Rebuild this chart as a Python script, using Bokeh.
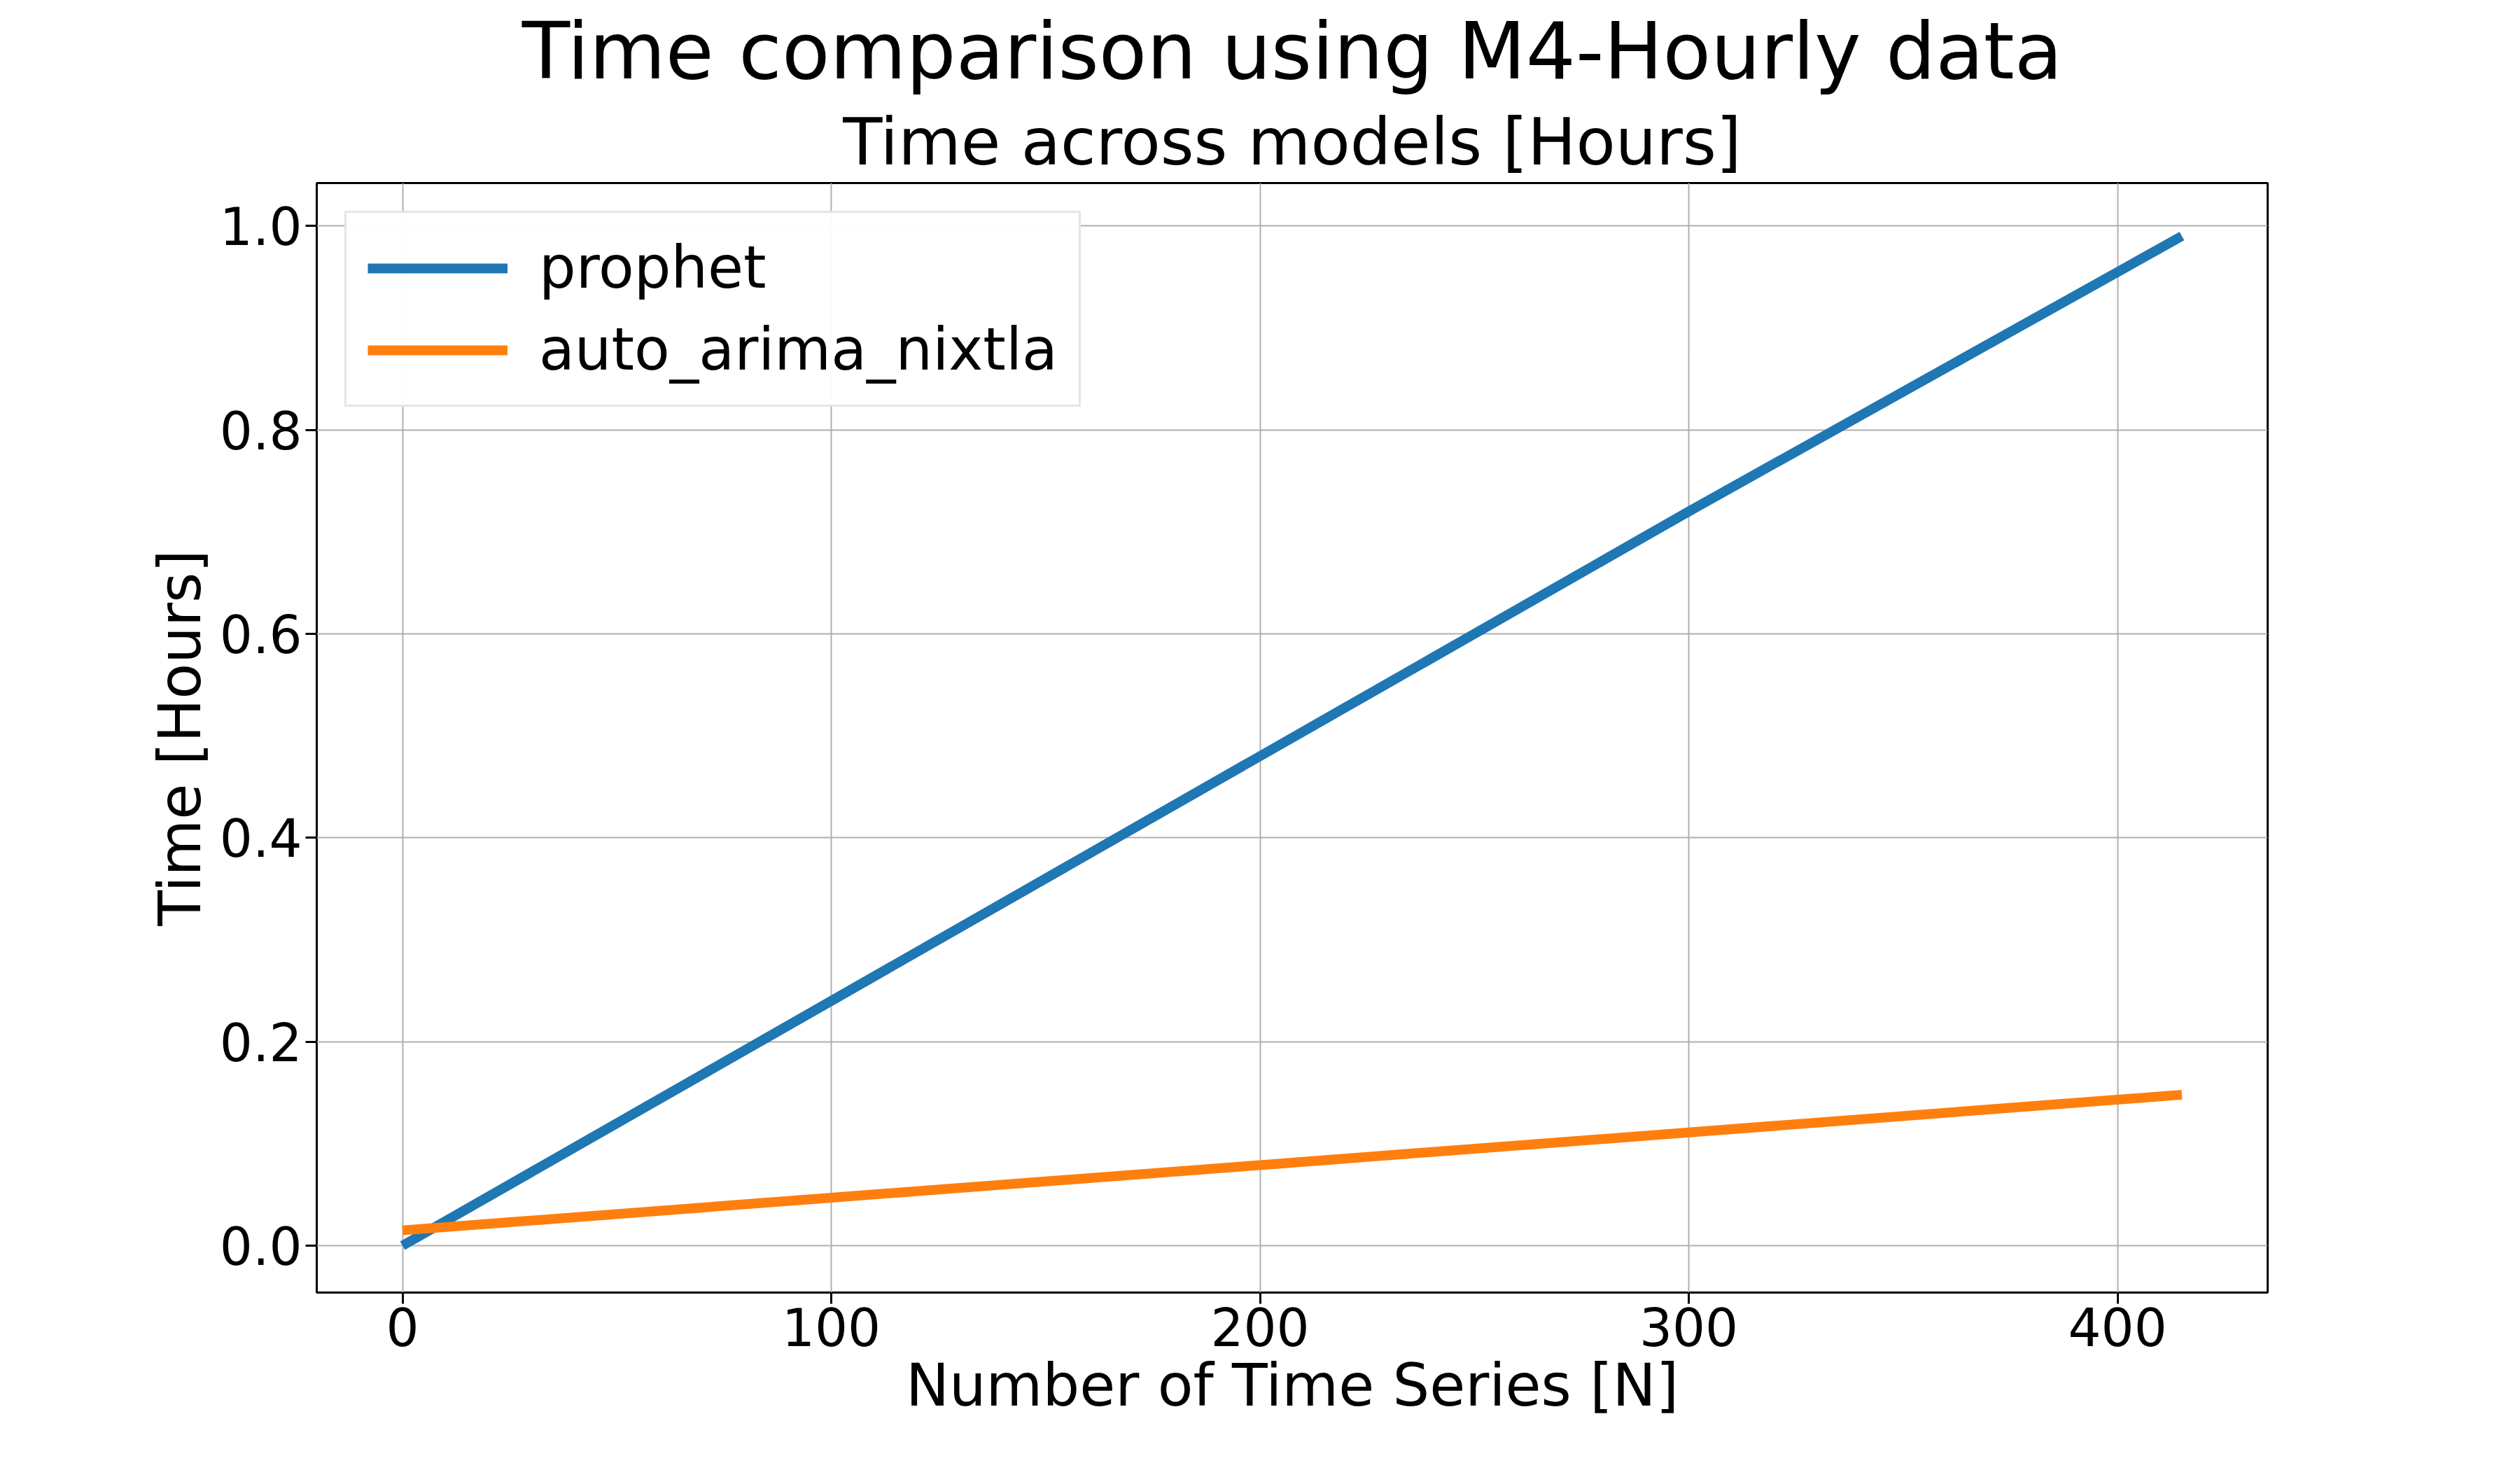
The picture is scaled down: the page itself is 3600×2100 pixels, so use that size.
from bokeh.plotting import figure
from bokeh.models import Range1d, Title, Legend, LegendItem, SingleIntervalTicker, CustomJSTickFormatter
from bokeh.embed import file_html
from bokeh.resources import INLINE

n_series = [0, 100, 200, 300, 415]
prophet = [0.0, 0.24, 0.48, 0.72, 0.99]
auto_arima = [0.015, 0.047, 0.079, 0.111, 0.148]

FONT = "DejaVu Sans"

p = figure(width=3584, height=2084, output_backend="svg", toolbar_location=None,
           x_range=Range1d(-20, 435), y_range=Range1d(-0.046, 1.042),
           min_border_left=452, min_border_right=345, min_border_top=249, min_border_bottom=238)
p.title = None
p.add_layout(Title(text="Time across models [Hours]", align="center", text_font=FONT,
                   text_font_size="92px", text_font_style="normal", text_color="black"), "above")
p.add_layout(Title(text="Time comparison using M4-Hourly data", align="center", text_font=FONT,
                   text_font_size="112px", text_font_style="normal", text_color="black",
                   offset=-60), "above")

l1 = p.line(n_series, prophet, line_color="#1f77b4", line_width=14)
l2 = p.line(n_series, auto_arima, line_color="#ff7f0e", line_width=14)

legend = Legend(items=[LegendItem(label="prophet", renderers=[l1]),
                       LegendItem(label="auto_arima_nixtla", renderers=[l2])],
                location="top_left", label_text_font=FONT, label_text_font_size="83px",
                label_text_color="black", label_standoff=45,
                glyph_width=200, glyph_height=90, label_height=90, spacing=20, padding=30,
                margin=40, border_line_color="#cccccc", border_line_width=3)
p.add_layout(legend)

p.xaxis.ticker = SingleIntervalTicker(interval=100)
p.yaxis.ticker = SingleIntervalTicker(interval=0.2)
p.yaxis.formatter = CustomJSTickFormatter(code="return tick.toFixed(1);")

for ax in (p.xaxis, p.yaxis):
    ax.major_label_text_font = FONT
    ax.major_label_text_font_size = "74px"
    ax.major_label_text_color = "black"
    ax.axis_label_text_font = FONT
    ax.axis_label_text_font_size = "83px"
    ax.axis_label_text_font_style = "normal"
    ax.axis_label_text_color = "black"
    ax.major_tick_out = 16
    ax.major_tick_in = 0
    ax.major_tick_line_width = 3
    ax.minor_tick_line_color = None
    ax.axis_line_color = None
p.xaxis.axis_label = "Number of Time Series [N]"
p.yaxis.axis_label = "Time [Hours]"

p.outline_line_color = "black"
p.outline_line_width = 3
p.grid.grid_line_color = "#b0b0b0"
p.grid.grid_line_width = 2

open("out.html", "w").write(file_html(p, INLINE))
